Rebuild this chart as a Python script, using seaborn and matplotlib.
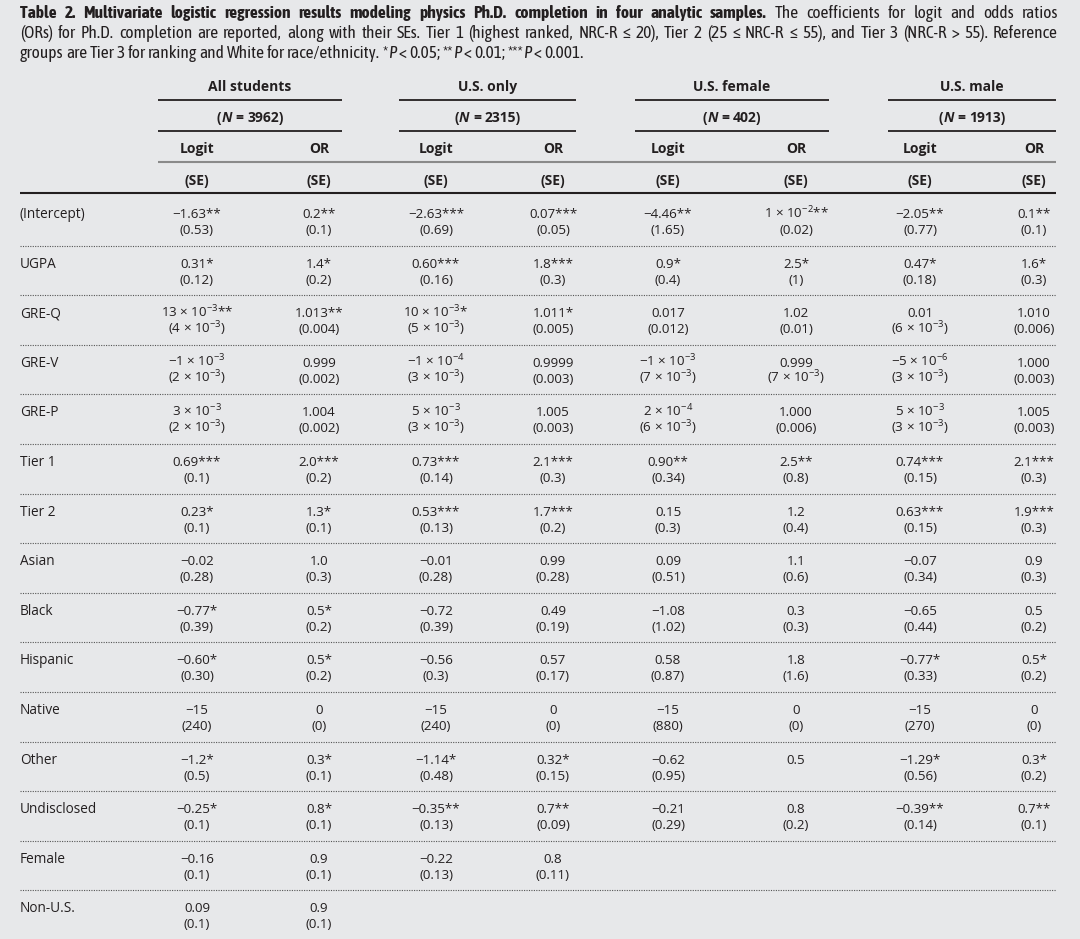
import matplotlib
matplotlib.use('Agg')
import matplotlib.pyplot as plt
import matplotlib.font_manager as fm
import seaborn as sns

M = '\u2212'

# caption text
caption_bold = 'Table 2. Multivariate logistic regression results modeling physics Ph.D. completion in four analytic samples.'
caption_rest = ' The coefficients for logit and odds ratios'
caption_line2 = ('(ORs) for Ph.D. completion are reported, along with their SEs. Tier 1 (highest ranked, NRC-R \u2264 20), '
                 'Tier 2 (25 \u2264 NRC-R \u2264 55), and Tier 3 (NRC-R > 55). Reference')

groups = ['All students', 'U.S. only', 'U.S. female', 'U.S. male']
group_n = ['3962', '2315', '402', '1913']

row_labels = ['(Intercept)', 'UGPA', 'GRE-Q', 'GRE-V', 'GRE-P', 'Tier 1', 'Tier 2', 'Asian', 'Black',
              'Hispanic', 'Native', 'Other', 'Undisclosed', 'Female', 'Non-U.S.']

all_logit = [M + '1.63**', '0.31*', '13 \u00d7 10$^{-3}$**', M + '1 \u00d7 10$^{-3}$', '3 \u00d7 10$^{-3}$',
             '0.69***', '0.23*', M + '0.02', M + '0.77*', M + '0.60*', M + '15', M + '1.2*', M + '0.25*',
             M + '0.16', '0.09']
all_logit_se = ['(0.53)', '(0.12)', '(4 \u00d7 10$^{-3}$)', '(2 \u00d7 10$^{-3}$)', '(2 \u00d7 10$^{-3}$)',
                '(0.1)', '(0.1)', '(0.28)', '(0.39)', '(0.30)', '(240)', '(0.5)', '(0.1)', '(0.1)', '(0.1)']
all_or = ['0.2**', '1.4*', '1.013**', '0.999', '1.004', '2.0***', '1.3*', '1.0', '0.5*', '0.5*', '0',
          '0.3*', '0.8*', '0.9', '0.9']
all_or_se = ['(0.1)', '(0.2)', '(0.004)', '(0.002)', '(0.002)', '(0.2)', '(0.1)', '(0.3)', '(0.2)', '(0.2)',
             '(0)', '(0.1)', '(0.1)', '(0.1)', '(0.1)']

us_logit = [M + '2.63***', '0.60***', '10 \u00d7 10$^{-3}$*', M + '1 \u00d7 10$^{-4}$', '5 \u00d7 10$^{-3}$',
            '0.73***', '0.53***', M + '0.01', M + '0.72', M + '0.56', M + '15', M + '1.14*', M + '0.35**',
            M + '0.22', '']
us_logit_se = ['(0.69)', '(0.16)', '(5 \u00d7 10$^{-3}$)', '(3 \u00d7 10$^{-3}$)', '(3 \u00d7 10$^{-3}$)',
               '(0.14)', '(0.13)', '(0.28)', '(0.39)', '(0.3)', '(240)', '(0.48)', '(0.13)', '(0.13)', '']
us_or = ['0.07***', '1.8***', '1.011*', '0.9999', '1.005', '2.1***', '1.7***', '0.99', '0.49', '0.57', '0',
         '0.32*', '0.7**', '0.8', '']
us_or_se = ['(0.05)', '(0.3)', '(0.005)', '(0.003)', '(0.003)', '(0.3)', '(0.2)', '(0.28)', '(0.19)',
            '(0.17)', '(0)', '(0.15)', '(0.09)', '(0.11)', '']

fem_logit = [M + '4.46**', '0.9*', '0.017', M + '1 \u00d7 10$^{-3}$', '2 \u00d7 10$^{-4}$', '0.90**', '0.15',
             '0.09', M + '1.08', '0.58', M + '15', M + '0.62', M + '0.21', '', '']
fem_logit_se = ['(1.65)', '(0.4)', '(0.012)', '(7 \u00d7 10$^{-3}$)', '(6 \u00d7 10$^{-3}$)', '(0.34)', '(0.3)',
                '(0.51)', '(1.02)', '(0.87)', '(880)', '(0.95)', '(0.29)', '', '']
fem_or = ['1 \u00d7 10$^{-2}$**', '2.5*', '1.02', '0.999', '1.000', '2.5**', '1.2', '1.1', '0.3', '1.8', '0',
          '0.5', '0.8', '', '']
fem_or_se = ['(0.02)', '(1)', '(0.01)', '(7 \u00d7 10$^{-3}$)', '(0.006)', '(0.8)', '(0.4)', '(0.6)', '(0.3)',
             '(1.6)', '(0)', '', '(0.2)', '', '']

male_logit = [M + '2.05**', '0.47*', '0.01', M + '5 \u00d7 10$^{-6}$', '5 \u00d7 10$^{-3}$', '0.74***',
              '0.63***', M + '0.07', M + '0.65', M + '0.77*', M + '15', M + '1.29*', M + '0.39**', '', '']
male_logit_se = ['(0.77)', '(0.18)', '(6 \u00d7 10$^{-3}$)', '(3 \u00d7 10$^{-3}$)', '(3 \u00d7 10$^{-3}$)',
                 '(0.15)', '(0.15)', '(0.34)', '(0.44)', '(0.33)', '(270)', '(0.56)', '(0.14)', '', '']
male_or = ['0.1**', '1.6*', '1.010', '1.000', '1.005', '2.1***', '1.9***', '0.9', '0.5', '0.5*', '0', '0.3*',
           '0.7**', '', '']
male_or_se = ['(0.1)', '(0.3)', '(0.006)', '(0.003)', '(0.003)', '(0.3)', '(0.3)', '(0.3)', '(0.2)', '(0.2)',
              '(0)', '(0.2)', '(0.1)', '', '']

columns = [(all_logit, all_logit_se), (all_or, all_or_se), (us_logit, us_logit_se), (us_or, us_or_se),
           (fem_logit, fem_logit_se), (fem_or, fem_or_se), (male_logit, male_logit_se), (male_or, male_or_se)]

# layout (pixels)
BG = '#e7e8ea'
INK = '#231f20'
col_x = [197, 319, 436, 553, 668, 796, 920, 1034]
group_span = [(158, 342), (399, 576), (635, 829), (888, 1056)]
left, right = 20, 1056
row_top = 213
row_step = 49.6

sns.set_theme(style='white')
installed = {f.name for f in fm.fontManager.ttflist}
body_font = 'Open Sans' if 'Open Sans' in installed else 'DejaVu Sans'

# the caption is set in a condensed face; use one that also has a bold cut
cap_font = body_font
bold_names = {f.name for f in fm.fontManager.ttflist if f.weight in (600, 700, 'bold', 'semibold')}
narrow = sorted(n for n in installed if ('Narrow' in n or 'Condensed' in n) and n in bold_names)
if narrow:
    cap_font = narrow[0]

plt.rcParams['font.family'] = [body_font, 'DejaVu Sans']
plt.rcParams['mathtext.fontset'] = 'custom'
plt.rcParams['mathtext.rm'] = body_font
plt.rcParams['mathtext.it'] = body_font + ':italic'
plt.rcParams['mathtext.bf'] = body_font + ':bold'

fig = plt.figure(figsize=(10.8, 9.39), dpi=100, facecolor=BG)
ax = fig.add_axes([0, 0, 1, 1])
ax.set_xlim(0, 1080)
ax.set_ylim(939, 0)
ax.axis('off')
renderer = fig.canvas.get_renderer()


def width_of(t):
    return t.get_window_extent(renderer).width


def draw_runs(x, y, runs, size, family, ha='left', width=None):
    # split styled runs into words so the line can be justified
    words = [[]]
    for text, weight, style in runs:
        for i, part in enumerate(text.split(' ')):
            if i > 0:
                words.append([])
            if part:
                words[-1].append((part, weight, style))
    words = [w for w in words if w]
    fam = [family, 'DejaVu Sans']
    sp = ax.text(0, y, 'x x', fontsize=size, family=fam)
    nx = ax.text(0, y, 'xx', fontsize=size, family=fam)
    space = width_of(sp) - width_of(nx)
    sp.remove()
    nx.remove()
    placed, widths = [], []
    for word in words:
        pieces, tot = [], 0
        for s, weight, style in word:
            t = ax.text(0, y, s, fontsize=size, family=fam, weight=weight, style=style,
                        va='baseline', ha='left', color=INK)
            w = width_of(t)
            pieces.append((t, w))
            tot += w
        placed.append(pieces)
        widths.append(tot)
    natural = sum(widths) + space * (len(words) - 1)
    gap = space
    if width is not None and len(words) > 1:
        gap = (width - sum(widths)) / (len(words) - 1)
    total = sum(widths) + gap * (len(words) - 1)
    cur = x - total / 2 if ha == 'center' else x
    for pieces in placed:
        for t, w in pieces:
            t.set_x(cur)
            cur += w
        cur += gap
    return natural, [t for p in placed for t, _ in p]


# caption: fit the first line to the table width, then justify
line1 = [(caption_bold, 'bold', 'normal'), (caption_rest, 'normal', 'normal')]
line3 = [('groups are Tier 3 for ranking and White for race/ethnicity. *', 'normal', 'normal'),
         ('P', 'normal', 'italic'), (' < 0.05; **', 'normal', 'normal'), ('P', 'normal', 'italic'),
         (' < 0.01; ***', 'normal', 'normal'), ('P', 'normal', 'italic'), (' < 0.001.', 'normal', 'normal')]
nat, tmp = draw_runs(left, 0, line1, 10, cap_font)
for t in tmp:
    t.remove()
cap_size = min(10 * (right + 2 - left) / nat * 0.99, 12.5)
draw_runs(left, 18, line1, cap_size, cap_font, width=right + 2 - left)
draw_runs(left, 38, [(caption_line2, 'normal', 'normal')], cap_size, cap_font, width=right + 2 - left)
draw_runs(left, 58, line3, cap_size, cap_font)

# header
for (x0, x1), g, n in zip(group_span, groups, group_n):
    xc = (x0 + x1) / 2
    ax.text(xc, 91, g, fontsize=10, weight='bold', ha='center', va='baseline', color=INK)
    ax.plot([x0, x1], [99.5, 99.5], color=INK, lw=1.3, solid_capstyle='butt')
    draw_runs(xc, 122, [('(', 'bold', 'normal'), ('N', 'bold', 'italic'), (' = ' + n + ')', 'bold', 'normal')],
              10, body_font, ha='center')
    ax.plot([x0, x1], [130.5, 130.5], color=INK, lw=1.3, solid_capstyle='butt')

for i, x in enumerate(col_x):
    ax.text(x, 153, 'Logit' if i % 2 == 0 else 'OR', fontsize=10, weight='bold', ha='center',
            va='baseline', color=INK)
    ax.text(x, 185, '(SE)', fontsize=10, weight='bold', ha='center', va='baseline', color=INK)
ax.plot([group_span[0][0], right], [162, 162], color='#8a8a8a', lw=1.5, solid_capstyle='butt')
ax.plot([left, right], [193, 193], color=INK, lw=1.5, solid_capstyle='butt')

# body rows
for r, label in enumerate(row_labels):
    yc = row_top + r * row_step
    ax.text(left, yc + 5, label, fontsize=9.8, ha='left', va='baseline', color=INK)
    for x, (vals, ses) in zip(col_x, columns):
        if vals[r]:
            ax.text(x, yc + 5, vals[r], fontsize=9.6, ha='center', va='baseline', color=INK)
        if ses[r]:
            ax.text(x, yc + 21, ses[r], fontsize=9.6, ha='center', va='baseline', color=INK)
    if r < len(row_labels) - 1:
        ax.plot([left, right], [yc + 32.5, yc + 32.5], color='#555555', lw=0.8, ls=(0, (1, 1.2)))

fig.savefig('out.png', dpi=100, facecolor=BG)
